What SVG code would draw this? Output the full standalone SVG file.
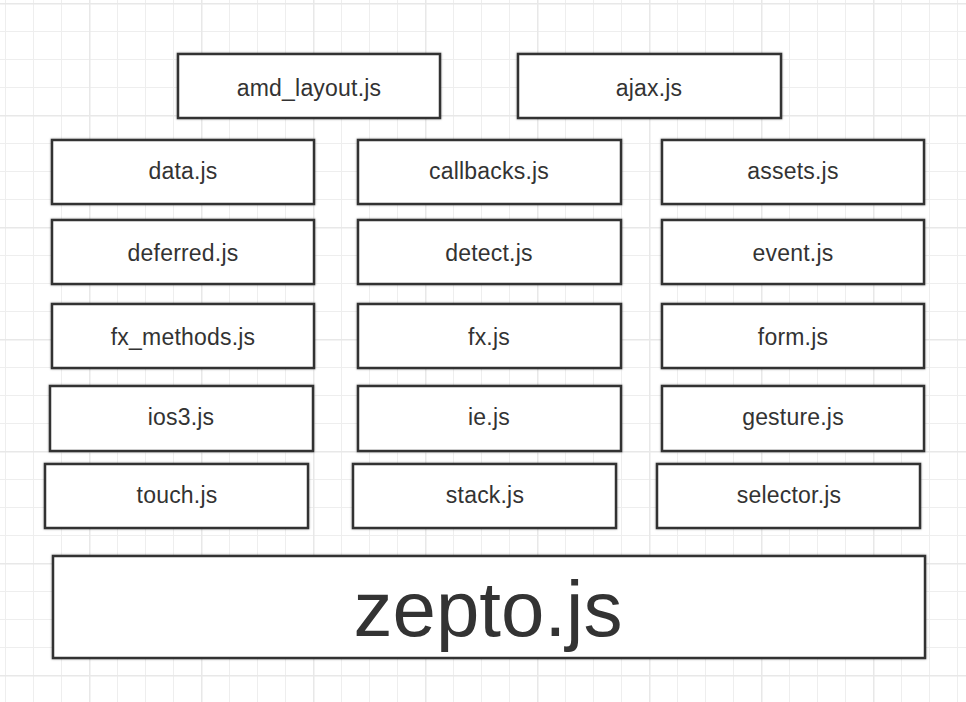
<svg xmlns="http://www.w3.org/2000/svg" width="966" height="702" viewBox="0 0 966 702">
<style>
.box{fill:#ffffff;stroke:#333333;stroke-width:2.5;filter:url(#sh)}
.t{font-family:"Liberation Sans",Arial,sans-serif;font-size:23px;fill:#333333;text-anchor:middle;letter-spacing:0.2px}
.big{font-family:"Liberation Sans",Arial,sans-serif;font-size:78px;fill:#333333;text-anchor:middle}
</style>
<defs>
<filter id="sh" x="-5%" y="-10%" width="110%" height="120%">
<feDropShadow dx="0" dy="0" stdDeviation="1" flood-color="#000" flood-opacity="0.35"/>
</filter>
<pattern id="minor" x="5" y="3" width="28" height="28" patternUnits="userSpaceOnUse">
<rect x="0" y="0" width="1" height="28" fill="#eeeeee"/>
<rect x="0" y="0" width="28" height="1" fill="#eeeeee"/>
</pattern>
<pattern id="major" x="89" y="3" width="112" height="112" patternUnits="userSpaceOnUse">
<rect x="-0.5" y="0" width="2" height="112" fill="#e8e8e8"/>
<rect x="0" y="-0.5" width="112" height="2" fill="#e8e8e8"/>
</pattern>
</defs>
<rect width="966" height="702" fill="#ffffff"/>
<rect width="966" height="702" fill="url(#minor)"/>
<rect width="966" height="702" fill="url(#major)"/>
<g id="connectors"></g>
<g id="amd_layout"><rect class="box" x="178" y="54" width="262" height="64"/><text class="t" x="309" y="96">amd_layout.js</text></g>
<g id="ajax"><rect class="box" x="518" y="54" width="263" height="64"/><text class="t" x="649" y="96">ajax.js</text></g>
<g id="data"><rect class="box" x="52" y="140" width="262" height="64"/><text class="t" x="183" y="179">data.js</text></g>
<g id="callbacks"><rect class="box" x="358" y="140" width="263" height="64"/><text class="t" x="489" y="179">callbacks.js</text></g>
<g id="assets"><rect class="box" x="662" y="140" width="262" height="64"/><text class="t" x="793" y="179">assets.js</text></g>
<g id="deferred"><rect class="box" x="52" y="220" width="262" height="64"/><text class="t" x="183" y="261">deferred.js</text></g>
<g id="detect"><rect class="box" x="358" y="220" width="263" height="64"/><text class="t" x="489" y="261">detect.js</text></g>
<g id="event"><rect class="box" x="662" y="220" width="262" height="64"/><text class="t" x="793" y="261">event.js</text></g>
<g id="fx_methods"><rect class="box" x="52" y="304" width="262" height="64"/><text class="t" x="183" y="345">fx_methods.js</text></g>
<g id="fx"><rect class="box" x="358" y="304" width="263" height="64"/><text class="t" x="489" y="345">fx.js</text></g>
<g id="form"><rect class="box" x="662" y="304" width="262" height="64"/><text class="t" x="793" y="345">form.js</text></g>
<g id="ios3"><rect class="box" x="50" y="386" width="263" height="65"/><text class="t" x="181" y="425">ios3.js</text></g>
<g id="ie"><rect class="box" x="358" y="386" width="263" height="65"/><text class="t" x="489" y="425">ie.js</text></g>
<g id="gesture"><rect class="box" x="662" y="386" width="262" height="65"/><text class="t" x="793" y="425">gesture.js</text></g>
<g id="touch"><rect class="box" x="45" y="464" width="263" height="64"/><text class="t" x="177" y="503">touch.js</text></g>
<g id="stack"><rect class="box" x="353" y="464" width="263" height="64"/><text class="t" x="485" y="503">stack.js</text></g>
<g id="selector"><rect class="box" x="657" y="464" width="263" height="64"/><text class="t" x="789" y="503">selector.js</text></g>
<g id="zepto"><rect class="box" x="53" y="556" width="872" height="102"/><text class="big" x="488" y="636">zepto.js</text></g>
</svg>
